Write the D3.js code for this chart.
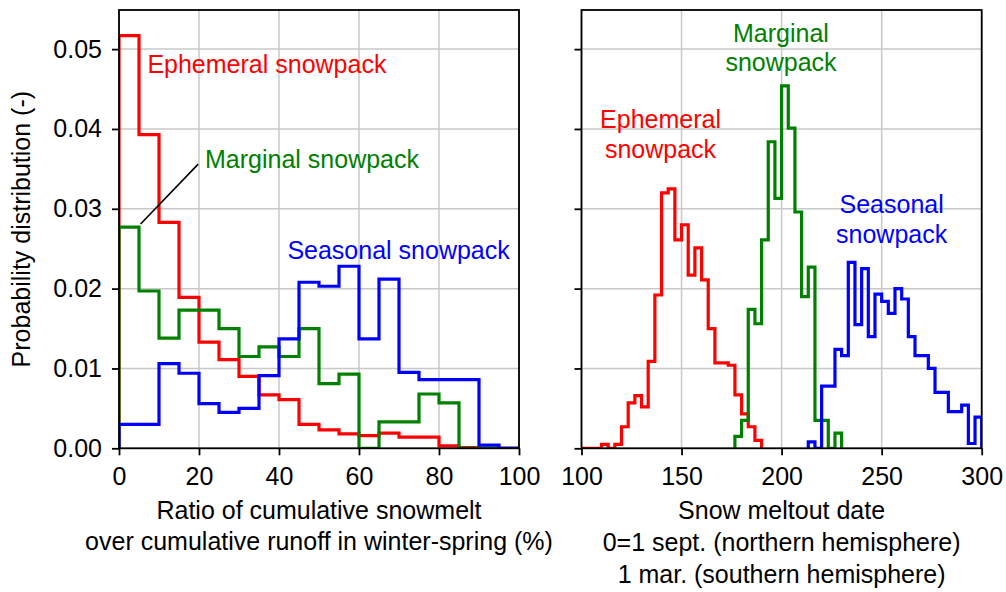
<!DOCTYPE html>
<html><head><meta charset="utf-8">
<script src="https://cdn.jsdelivr.net/npm/d3@7"></script>
<style>
body{margin:0;background:#fff}
text{font-family:"Liberation Sans",Arial,Helvetica,sans-serif}
</style>
</head><body>
<svg id="c" width="1006" height="592"></svg>
<script>
// ---------- DATA ----------
// Left panel: ratio of cumulative snowmelt over cumulative runoff (%), bins of 5 %
const ratioEdges = [0,5,10,15,20,25,30,35,40,45,50,55,60,65,70,75,80,85,90,95,100];
const ratioEphemeral = [0.0517,0.0393,0.0283,0.0189,0.0133,0.0111,0.0090,0.0067,0.0061,0.0030,0.0023,0.0018,0.0016,0.0019,0.0014,0.0014,0.0003,0.0001,0,0];
const ratioMarginal  = [0.0277,0.0197,0.0138,0.0173,0.0173,0.0150,0.0115,0.0127,0.0115,0.0150,0.0081,0.0093,0,0.0033,0.0033,0.0068,0.0057,0,0,0];
const ratioSeasonal  = [0.0030,0.0030,0.0106,0.0094,0.0056,0.0045,0.0050,0.0091,0.0137,0.0208,0.0203,0.0228,0.0137,0.0212,0.0095,0.0086,0.0086,0.0086,0.0004,0];

// Right panel: snow meltout date, bins of 10/3 days starting at day 100
const dateBinOrigin = 100;
const dateBinWidth = 10/3;
const dateEphemeralFirstBin = 0;
const dateEphemeral = [0,0,0,0.0005,0,0.0005,0.0027,0.0057,0.0066,0.0052,0.0109,0.0192,0.0320,0.0325,0.0261,0.0280,0.0217,0.0251,0.0211,0.0150,0.0107,0.0107,0.0104,0.0067,0.0043,0.0027,0.0010];
const dateMarginalFirstBin = 23;
const dateMarginal = [0.0015,0.0035,0.0174,0.0156,0.0261,0.0384,0.0313,0.0454,0.0401,0.0296,0.0190,0.0227,0.0035,0.0035,0,0.0019];
const dateSeasonalFirstBin = 34;
const dateSeasonal = [0.0008,0,0.0078,0.0078,0.0124,0.0116,0.0233,0.0155,0.0225,0.0140,0.0193,0.0184,0.0169,0.0200,0.0187,0.0140,0.0116,0.0116,0.0100,0.0070,0.0070,0.0046,0.0046,0.0054,0.0006,0.0039];

// Ticks
const yTicks = [0,0.01,0.02,0.03,0.04,0.05];
const yTickLabels = ["0.00","0.01","0.02","0.03","0.04","0.05"];
const ratioTicks = [0,20,40,60,80,100];
const dateTicks = [100,150,200,250,300];

// Labels
const yLabel = "Probability distribution (-)";
const ratioLabel = ["Ratio of cumulative snowmelt","over cumulative runoff in winter-spring (%)"];
const dateLabel = ["Snow meltout date","0=1 sept. (northern hemisphere)","1 mar. (southern hemisphere)"];
const seriesNames = ["Ephemeral snowpack","Marginal snowpack","Seasonal snowpack"];
const seriesColors = ["#ff0000","#008000","#0000ff"];

// ---------- LAYOUT ----------
const FS = 25;
const plotTop = 10, plotBottom = 448.3;
const y = d3.scaleLinear().domain([0,0.0549]).range([plotBottom, plotTop]);
const xL = d3.scaleLinear().domain([0,100]).range([119,519]);
const xR = d3.scaleLinear().domain([100,300]).range([581.5,981.7]);

const svg = d3.select("#c");
svg.append("rect").attr("width",1006).attr("height",592).attr("fill","#fff");

function stepPoints(edges, vals){
  const pts = [[edges[0],0]];
  vals.forEach((v,i)=>{ pts.push([edges[i],v]); pts.push([edges[i+1],v]); });
  pts.push([edges[vals.length],0]);
  return pts;
}

function panel(x, id, xTicks){
  const g = svg.append("g");
  const [x0,x1] = x.range();
  svg.append("clipPath").attr("id",id).append("rect")
    .attr("x",x0).attr("y",plotTop).attr("width",x1-x0).attr("height",plotBottom-plotTop);
  g.append("g").selectAll("line").data(xTicks).join("line")
    .attr("x1",d=>x(d)).attr("x2",d=>x(d)).attr("y1",plotTop).attr("y2",plotBottom)
    .attr("stroke","#c8c8c8").attr("stroke-width",1.5);
  g.append("g").selectAll("line").data(yTicks).join("line")
    .attr("x1",x0).attr("x2",x1).attr("y1",d=>y(d)).attr("y2",d=>y(d))
    .attr("stroke","#c8c8c8").attr("stroke-width",1.5);
  const plot = g.append("g").attr("clip-path",`url(#${id})`);
  return {g, plot};
}

const L = panel(xL, "clipL", ratioTicks);
const R = panel(xR, "clipR", dateTicks);

const line = (x)=> d3.line().x(d=>x(d[0])).y(d=>y(d[1]));

[ratioEphemeral, ratioMarginal, ratioSeasonal].forEach((vals,i)=>{
  L.plot.append("path").attr("d", line(xL)(stepPoints(ratioEdges, vals)))
    .attr("fill","none").attr("stroke",seriesColors[i]).attr("stroke-width",3.2)
    .attr("stroke-linejoin","miter");
});
[[dateEphemeral,dateEphemeralFirstBin],[dateMarginal,dateMarginalFirstBin],[dateSeasonal,dateSeasonalFirstBin]].forEach(([vals,first],i)=>{
  const edges = d3.range(vals.length+1).map(k=>dateBinOrigin+(first+k)*dateBinWidth);
  R.plot.append("path").attr("d", line(xR)(stepPoints(edges, vals)))
    .attr("fill","none").attr("stroke",seriesColors[i]).attr("stroke-width",3.2)
    .attr("stroke-linejoin","miter");
});

function styleAxis(sel){
  sel.selectAll(".domain").remove();
  sel.selectAll(".tick line").attr("stroke","#000").attr("stroke-width",1.8);
  sel.selectAll("text").attr("font-size",FS).attr("fill","#000")
     .attr("font-family",'"Liberation Sans",Arial,sans-serif');
}
svg.append("g").attr("transform",`translate(0,${plotBottom})`)
  .call(d3.axisBottom(xL).tickValues(ratioTicks).tickSize(7).tickPadding(11.5).tickFormat(d3.format("d")))
  .call(styleAxis);
svg.append("g").attr("transform",`translate(0,${plotBottom})`)
  .call(d3.axisBottom(xR).tickValues(dateTicks).tickSize(7).tickPadding(11.5).tickFormat(d3.format("d")))
  .call(styleAxis);
svg.append("g").attr("transform",`translate(${xL.range()[0]},0)`)
  .call(d3.axisLeft(y).tickValues(yTicks).tickSize(7).tickPadding(10).tickFormat((d,i)=>yTickLabels[i]))
  .call(styleAxis);
svg.append("g").attr("transform",`translate(${xR.range()[0]},0)`)
  .call(d3.axisLeft(y).tickValues(yTicks).tickSize(7).tickFormat(""))
  .call(styleAxis);

[xL,xR].forEach(x=>{
  const [x0,x1]=x.range();
  svg.append("rect").attr("x",x0).attr("y",plotTop).attr("width",x1-x0).attr("height",plotBottom-plotTop)
    .attr("fill","none").attr("stroke","#000").attr("stroke-width",1.8);
});

svg.append("text").attr("transform",`translate(30,${(plotTop+plotBottom)/2}) rotate(-90)`)
  .attr("text-anchor","middle").attr("font-size",FS).attr("fill","#000").text(yLabel);
ratioLabel.forEach((t,i)=>{
  svg.append("text").attr("x",d3.mean(xL.range())).attr("y",519+i*31.2)
    .attr("text-anchor","middle").attr("font-size",FS).attr("fill","#000").text(t);
});
dateLabel.forEach((t,i)=>{
  svg.append("text").attr("x",d3.mean(xR.range())).attr("y",519.3+i*31.7)
    .attr("text-anchor","middle").attr("font-size",FS).attr("fill","#000").text(t);
});

const leftAnn = [
  {x:7.1, y:0.0470},
  {x:21.5, y:0.0351},
  {x:42.1, y:0.02368}
];
leftAnn.forEach((a,i)=>{
  L.g.append("text").attr("x",xL(a.x)).attr("y",y(a.y)).attr("font-size",FS)
    .attr("fill",seriesColors[i]).text(seriesNames[i]);
});
const annLine = [[5.4,0.0281],[19.8,0.0356]];
L.g.append("path").attr("d", line(xL)(annLine)).attr("stroke","#000").attr("stroke-width",1.6).attr("fill","none");

const rightAnn = [
  {x:139.5, y:0.04012},
  {x:199.7, y:0.05095},
  {x:255.0, y:0.02945}
];
rightAnn.forEach((a,i)=>{
  const words = seriesNames[i].split(" ");
  const t = R.g.append("text").attr("x",xR(a.x)).attr("y",y(a.y)).attr("font-size",FS)
    .attr("fill",seriesColors[i]).attr("text-anchor","middle");
  t.append("tspan").attr("x",xR(a.x)).text(words[0]);
  t.append("tspan").attr("x",xR(a.x)).attr("dy",29.7).text(words[1]);
});
</script>
</body></html>
